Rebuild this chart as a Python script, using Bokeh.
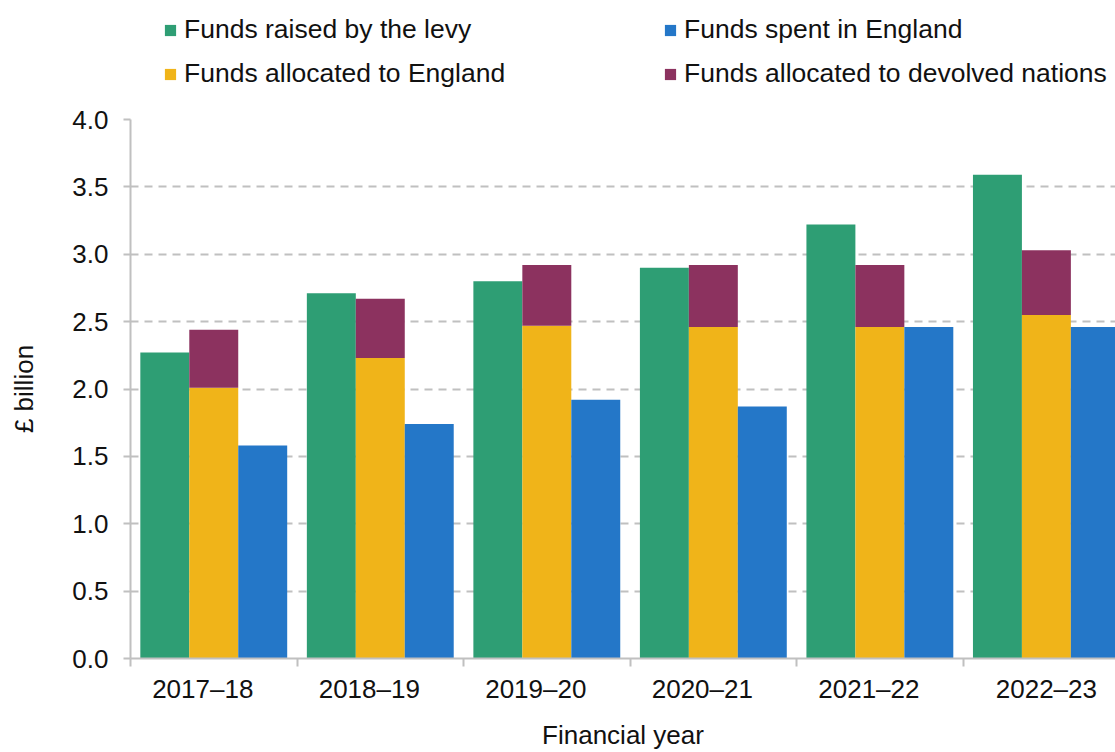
from bokeh.plotting import figure
from bokeh.layouts import column
from bokeh.models import Range1d, FixedTicker, Legend, LegendItem, ColumnDataSource, NumeralTickFormatter
from bokeh.transform import dodge
from bokeh.embed import file_html
from bokeh.resources import INLINE

years = ["2017–18", "2018–19", "2019–20", "2020–21", "2021–22", "2022–23"]
levy = [2.27, 2.71, 2.80, 2.90, 3.22, 3.59]
england = [2.01, 2.23, 2.47, 2.46, 2.46, 2.55]
devolved = [0.43, 0.44, 0.45, 0.46, 0.46, 0.48]
spent = [1.58, 1.74, 1.92, 1.87, 2.46, 2.46]
y_ticks = [0.0, 0.5, 1.0, 1.5, 2.0, 2.5, 3.0, 3.5, 4.0]

series_labels = ["Funds raised by the levy", "Funds spent in England",
                 "Funds allocated to England", "Funds allocated to devolved nations"]

GREEN = "#2E9E74"
YELLOW = "#F0B419"
BLUE = "#2477C8"
PURPLE = "#8C325F"
GREY = "#C0C0C0"
FONT = "Liberation Sans"
FS = "26px"

centers = [i + 0.5 for i in range(len(years))]
total = [e + d for e, d in zip(england, devolved)]
src = ColumnDataSource(dict(x=centers, levy=levy, england=england, devolved=devolved,
                            total=total, spent=spent))

# category labels sit slightly left of the bar groups (as in the source chart),
# the last one is centred in its visible part
LABEL_SHIFT = [-0.066, -0.066, -0.066, -0.066, -0.066, 0.0]
label_pos = [c + s for c, s in zip(centers, LABEL_SHIFT)]

BW = 0.294
X_RANGE = (0, 5.915)


def draw_bars(fig):
    r1 = fig.vbar(x=dodge("x", -BW, range=fig.x_range), top="levy", width=BW, source=src,
                  fill_color=GREEN, line_color=None)
    r2 = fig.vbar(x="x", top="england", bottom=0, width=BW, source=src,
                  fill_color=YELLOW, line_color=None)
    r3 = fig.vbar(x="x", top="total", bottom="england", width=BW, source=src,
                  fill_color=PURPLE, line_color=None)
    r4 = fig.vbar(x=dodge("x", BW, range=fig.x_range), top="spent", width=BW, source=src,
                  fill_color=BLUE, line_color=None)
    return r1, r4, r2, r3


# ---------------- main chart ----------------
p = figure(width=1115, height=648, x_range=Range1d(*X_RANGE), y_range=Range1d(0, 4.0),
           output_backend="svg", toolbar_location=None,
           min_border_left=130, min_border_right=0, min_border_top=15, min_border_bottom=93)
p.outline_line_color = None
draw_bars(p)

p.xaxis.ticker = FixedTicker(ticks=label_pos, minor_ticks=list(range(len(years) + 1)))
p.xaxis.major_label_overrides = {c: y for c, y in zip(label_pos, years)}
p.xaxis.major_tick_in = 0
p.xaxis.major_tick_out = 0
p.xaxis.minor_tick_in = 0
p.xaxis.minor_tick_out = 8
p.xaxis.minor_tick_line_color = GREY
p.xaxis.minor_tick_line_width = 2
p.xaxis.major_label_standoff = 7
p.xaxis.axis_label = "Financial year"
p.xaxis.axis_label_standoff = 13

p.yaxis.ticker = FixedTicker(ticks=y_ticks, minor_ticks=[])
p.yaxis.formatter = NumeralTickFormatter(format="0.0")
p.yaxis.major_tick_in = 0
p.yaxis.major_tick_out = 7
p.yaxis.major_tick_line_color = GREY
p.yaxis.major_tick_line_width = 2
p.yaxis.major_label_standoff = 15
p.yaxis.axis_label = "£ billion"
p.yaxis.axis_label_standoff = 30

for ax in (p.xaxis, p.yaxis):
    ax.axis_line_color = GREY
    ax.axis_line_width = 2
    ax.major_label_text_font = FONT
    ax.major_label_text_font_size = FS
    ax.major_label_text_color = "#111111"
    ax.axis_label_text_font = FONT
    ax.axis_label_text_font_size = FS
    ax.axis_label_text_font_style = "normal"
    ax.axis_label_text_color = "#111111"

p.xgrid.visible = False
p.ygrid.ticker = FixedTicker(ticks=y_ticks[1:])
p.ygrid.grid_line_color = GREY
p.ygrid.grid_line_width = 2
p.ygrid.grid_line_dash = "8 6"

# ---------------- legend strip (same series, drawn out of view; only the key shows) ----------------
lg = figure(width=1115, height=104, x_range=Range1d(*X_RANGE), y_range=Range1d(100, 101),
            output_backend="svg", toolbar_location=None,
            x_axis_type=None, y_axis_type=None,
            min_border_left=0, min_border_right=0, min_border_top=0, min_border_bottom=0)
lg.outline_line_color = None
lg.xgrid.visible = False
lg.ygrid.visible = False
keys = draw_bars(lg)

legend = Legend(items=[LegendItem(label=t, renderers=[r]) for t, r in zip(series_labels, keys)],
                orientation="horizontal", ncols=2, location=(33, 15),
                glyph_width=14, glyph_height=14, label_height=14, label_width=466,
                label_standoff=7, spacing=13, padding=0, margin=0,
                border_line_color=None, background_fill_alpha=0,
                label_text_font=FONT, label_text_font_size="26.5px",
                label_text_color="#111111")
lg.add_layout(legend)

layout = column(lg, p, spacing=0)
open("out.html", "w").write(file_html(layout, INLINE))
